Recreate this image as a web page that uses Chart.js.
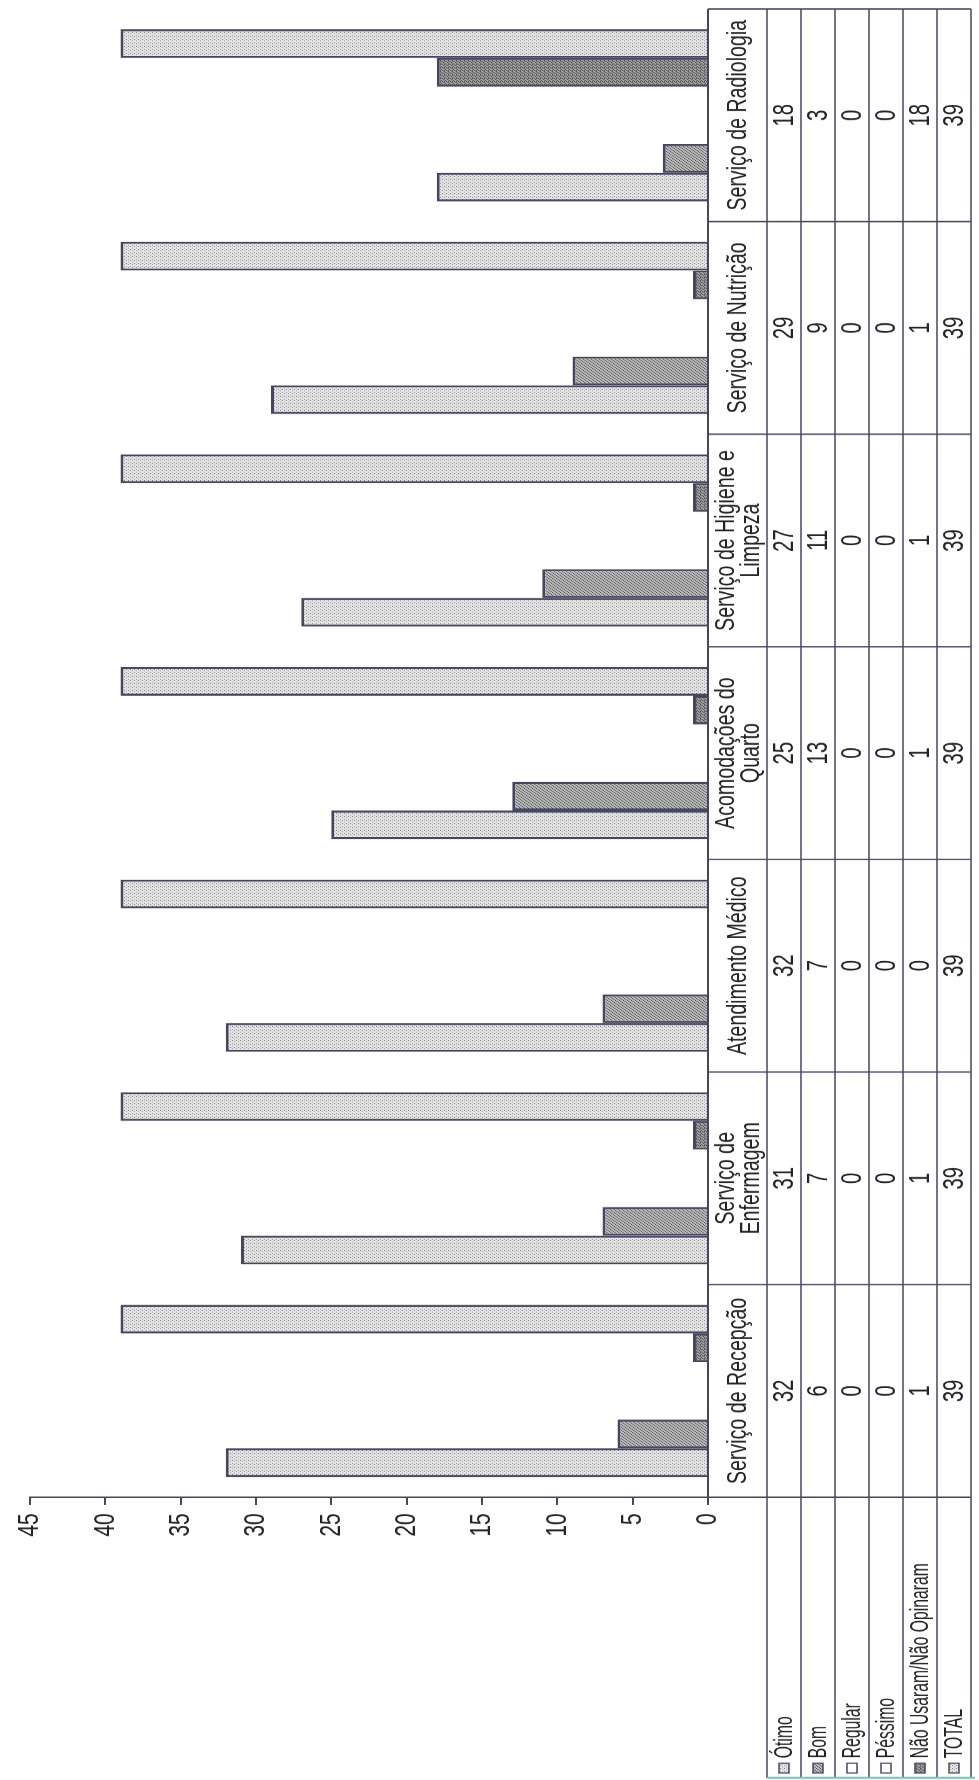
<!DOCTYPE html>
<html lang="pt-BR">
<head>
<meta charset="UTF-8">
<title>Avaliação dos Serviços</title>
<script src="https://cdn.jsdelivr.net/npm/chart.js"></script>
<style>
    html, body { margin: 0; padding: 0; background: #fff; overflow: hidden; }
    /* o gráfico é desenhado em pé e girado para a página, levemente comprimido no eixo das categorias */
    #folha {
        position: absolute; left: 0; top: 0;
        width: 2543px; height: 979px;
        transform-origin: 0 0;
        transform: translate(0, 1780px) rotate(-90deg) scale(0.7, 1);
    }
</style>
</head>
<body>
<div id="folha">
    <canvas id="grafico" width="2543" height="979"></canvas>
</div>
<script>
    // dados da pesquisa
    const categorias = [
        ['Serviço de Recepção'],
        ['Serviço de', 'Enfermagem'],
        ['Atendimento Médico'],
        ['Acomodações do', 'Quarto'],
        ['Serviço de Higiene e', 'Limpeza'],
        ['Serviço de Nutrição'],
        ['Serviço de Radiologia']
    ];
    const nomesSeries = ['Ótimo', 'Bom', 'Regular', 'Péssimo', 'Não Usaram/Não Opinaram', 'TOTAL'];
    const otimo     = [32, 31, 32, 25, 27, 29, 18];
    const bom       = [6, 7, 7, 13, 11, 9, 3];
    const regular   = [0, 0, 0, 0, 0, 0, 0];
    const pessimo   = [0, 0, 0, 0, 0, 0, 0];
    const naoUsaram = [1, 1, 0, 1, 1, 1, 18];
    const total     = [39, 39, 39, 39, 39, 39, 39];
    const eixoMin = 0, eixoMax = 45, eixoPasso = 5;

    const fonte = "'Liberation Sans', Arial, sans-serif";
    const corLinha = '#45475e';
    const corTexto = '#232328';

    // texturas pontilhadas das barras
    function textura(fundo, ponto, pontos) {
        const c = document.createElement('canvas');
        c.width = 4; c.height = 4;
        const g = c.getContext('2d');
        g.fillStyle = fundo;
        g.fillRect(0, 0, 4, 4);
        g.fillStyle = ponto;
        pontos.forEach(p => g.fillRect(p[0], p[1], 1, 1));
        return g.createPattern(c, 'repeat');
    }
    const texClaro  = textura('#e3e3e3', '#7a7a7a', [[0, 0], [2, 2]]);
    const texMedio  = textura('#bababa', '#505050', [[0, 0], [2, 2], [1, 3], [3, 1]]);
    const texEscuro = textura('#a0a0a0', '#444444', [[0, 0], [2, 2], [1, 3], [3, 1], [2, 0]]);

    const valores = [otimo, bom, regular, pessimo, naoUsaram, total];
    const preenchimentos = [texClaro, texMedio, '#ffffff', '#ffffff', texEscuro, texClaro];

    const datasets = nomesSeries.map((nome, i) => ({
        label: nome,
        data: valores[i],
        backgroundColor: preenchimentos[i],
        borderColor: corLinha,
        borderWidth: ctx => (ctx.raw === 0 ? 0 : 3),
        barPercentage: 1,
        categoryPercentage: 0.81
    }));

    // tabela de dados abaixo do eixo das categorias, com a legenda nas linhas
    const tabelaDados = {
        id: 'tabelaDados',
        afterDraw(chart) {
            const ctx = chart.ctx;
            const area = chart.chartArea;
            const xs = chart.scales.x;
            const passo = xs.getPixelForValue(1) - xs.getPixelForValue(0);
            const topo = area.bottom;
            const cab = 59;
            const altLinha = 34;
            const esq = 3;
            const base = topo + cab + altLinha * nomesSeries.length;

            ctx.save();
            ctx.strokeStyle = corLinha;

            // linhas horizontais das séries
            ctx.lineWidth = 1.5;
            for (let r = 0; r <= nomesSeries.length; r++) {
                const y = topo + cab + r * altLinha;
                ctx.beginPath();
                ctx.moveTo(esq, y);
                ctx.lineTo(area.right, y);
                ctx.stroke();
            }
            // divisões das colunas
            ctx.lineWidth = 2;
            for (let i = 0; i <= categorias.length; i++) {
                const x = xs.getPixelForValue(0) - passo / 2 + i * passo;
                ctx.beginPath();
                ctx.moveTo(x, topo);
                ctx.lineTo(x, base);
                ctx.stroke();
            }
            // eixo das categorias
            ctx.lineWidth = 2;
            ctx.beginPath();
            ctx.moveTo(area.left, topo);
            ctx.lineTo(area.right, topo);
            ctx.stroke();

            // borda externa da coluna da legenda
            ctx.strokeStyle = '#7cc4bc';
            ctx.lineWidth = 3;
            ctx.beginPath();
            ctx.moveTo(esq, topo + cab);
            ctx.lineTo(esq, base + 4);
            ctx.stroke();

            ctx.fillStyle = corTexto;
            ctx.textAlign = 'center';
            ctx.textBaseline = 'middle';

            // nomes das categorias
            ctx.font = '28px ' + fonte;
            categorias.forEach((linhas, i) => {
                const x = xs.getPixelForValue(i);
                const meio = topo + cab / 2 + 1;
                const h = 25;
                linhas.forEach((t, j) => {
                    ctx.fillText(t, x, meio + (j - (linhas.length - 1) / 2) * h);
                });
            });

            // valores
            ctx.font = '29px ' + fonte;
            valores.forEach((serie, r) => {
                const y = topo + cab + r * altLinha + altLinha / 2 + 1;
                serie.forEach((v, i) => {
                    ctx.fillText(String(v), xs.getPixelForValue(i), y);
                });
            });

            // cabeçalho das linhas: chave da legenda + nome
            ctx.textAlign = 'left';
            ctx.font = '25px ' + fonte;
            nomesSeries.forEach((nome, r) => {
                const y = topo + cab + r * altLinha + altLinha / 2;
                ctx.fillStyle = preenchimentos[r];
                ctx.fillRect(10, y - 5, 14, 10);
                ctx.strokeStyle = corLinha;
                ctx.lineWidth = 1.5;
                ctx.strokeRect(10, y - 5, 14, 10);
                ctx.fillStyle = corTexto;
                ctx.save();
                ctx.translate(31, y + 1);
                ctx.scale(0.9, 1);
                ctx.fillText(nome, 0, 0);
                ctx.restore();
            });
            ctx.restore();
        }
    };

    Chart.defaults.font.family = fonte;

    new Chart(document.getElementById('grafico'), {
        type: 'bar',
        data: { labels: categorias, datasets: datasets },
        options: {
            responsive: false,
            animation: false,
            layout: { padding: { left: 0, right: 13, top: 23, bottom: 271 } },
            plugins: {
                legend: { display: false },
                tooltip: { enabled: false }
            },
            scales: {
                x: {
                    display: false
                },
                y: {
                    min: eixoMin,
                    max: eixoMax,
                    ticks: {
                        stepSize: eixoPasso,
                        color: corTexto,
                        font: { size: 30 },
                        padding: 12
                    },
                    grid: {
                        drawOnChartArea: false,
                        drawTicks: true,
                        tickLength: 11,
                        color: corLinha,
                        lineWidth: 2
                    },
                    border: { display: true, color: corLinha, width: 2 },
                    afterFit(scale) { scale.width = 404; }
                }
            }
        },
        plugins: [tabelaDados]
    });
</script>
</body>
</html>
